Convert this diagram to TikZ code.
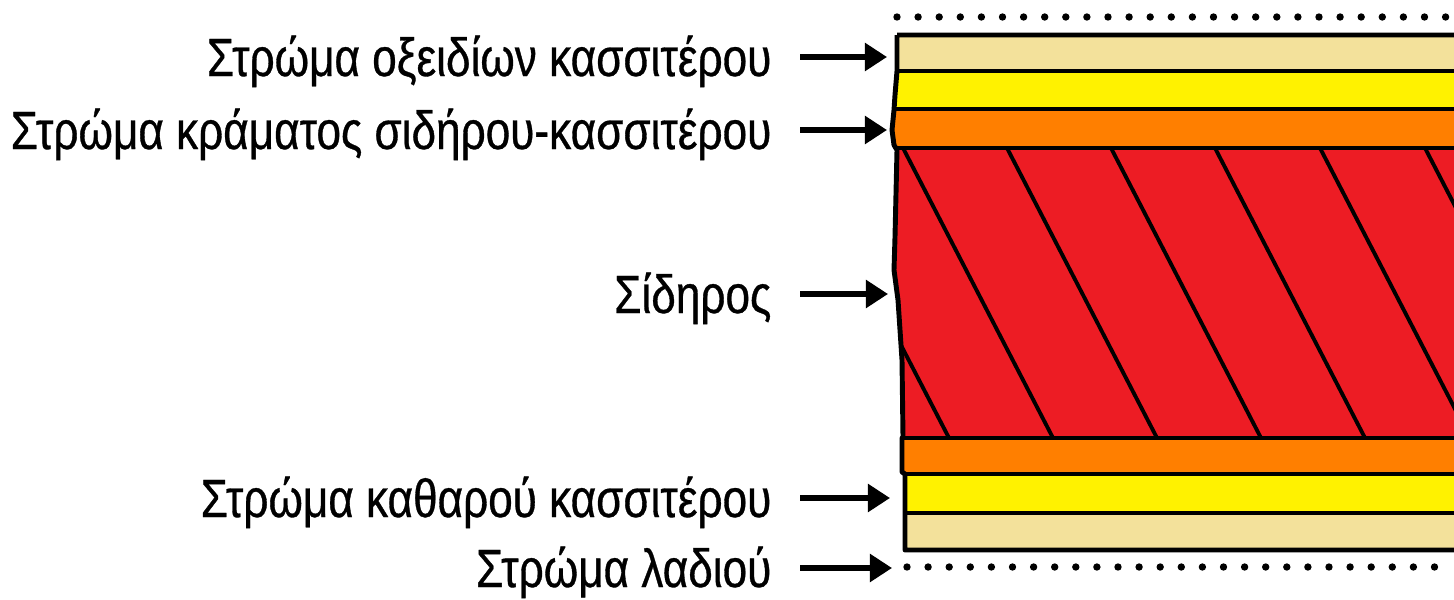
\documentclass[tikz,border=0pt]{standalone}
\usepackage{fontspec}
\setmainfont{Liberation Sans}[FakeStretch=0.82,FakeBold=0.6]
\usetikzlibrary{arrows.meta,positioning}
\definecolor{Oil}{HTML}{F3E19B}
\definecolor{Tin}{HTML}{FFF200}
\definecolor{Alloy}{HTML}{FF7F00}
\definecolor{Iron}{HTML}{ED1C24}
\tikzset{
  layerlabel/.style={
    anchor=east, inner sep=0pt, text height=0.38cm, text depth=0pt,
    font=\fontsize{15.3}{18}\selectfont
  },
  pointer/.style={-{Triangle[length=0.22cm,width=0.27cm]}, line width=1.5pt, shorten <=0.28cm},
  layerline/.style={line width=1.4pt},
  hatch/.style={line width=1.1pt},
  oilfilm/.style={line width=2.1pt, line cap=round, dash pattern=on 0pt off 6pt}
}

\begin{document}
\begin{tikzpicture}[x=0.01cm,y=-0.01cm]
    \useasboundingbox (0,0) rectangle (1454,600);
    % tip points of the arrows
    \coordinate (oxtip) at (887,57);
    \coordinate (alloytip) at (887,130);
    \coordinate (irontip) at (888,294);
    \coordinate (tintip) at (890,498);
    \coordinate (oiltip) at (892,568);
    % layers, clipped to the ragged sheet edge
    \begin{scope}
      \clip (897,35) -- (1460,35) -- (1460,550) -- (905,550) -- (905,474)
        -- (902,472) -- (902,438) -- (903,437) -- (902,360) -- (900,330)
        -- (898,300) -- (894,270) -- (895,237) -- (897,150) -- (894,145)
        -- (892,130) -- (894,110) -- (895,95) -- (897,71) -- cycle;
      \fill[Oil] (880,35) rectangle (1460,71);
      \fill[Tin] (880,71) rectangle (1460,109);
      \fill[Alloy] (880,109) rectangle (1460,148);
      \fill[Iron] (880,148) rectangle (1460,438);
      \fill[Alloy] (880,438) rectangle (1460,474);
      \fill[Tin] (880,474) rectangle (1460,513);
      \fill[Oil] (880,513) rectangle (1460,550);
      \begin{scope}
        \clip (880,148) rectangle (1460,438);
        \foreach \t in {799,903,1007,1111,1215,1320,1425}
          \draw[hatch] (\t,148) -- ({\t+150},438);
      \end{scope}
      \foreach \y in {71,109,148,438,474,513}
        \draw[layerline] (880,\y) -- (1460,\y);
    \end{scope}
    \draw[layerline,line join=round] (897,35) -- (1460,35) (1460,550) -- (905,550) -- (905,474)
        -- (902,472) -- (902,438) -- (903,437) -- (902,360) -- (900,330)
        -- (898,300) -- (894,270) -- (895,237) -- (897,150) -- (894,145)
        -- (892,130) -- (894,110) -- (895,95) -- (897,71) -- (897,35);
    % oil films
    \draw[oilfilm] (897,17) -- (1454,17);
    \draw[oilfilm] (907,567) -- (1454,567);
    % labels
    \node[layerlabel] (oxlbl) at (772,57) {Στρώμα οξειδίων κασσιτέρου};
    \node[layerlabel] (alloylbl) at (772,130) {Στρώμα κράματος σιδήρου-κασσιτέρου};
    \node[layerlabel] (ironlbl) at (772,294) {Σίδηρος};
    \node[layerlabel] (tinlbl) at (772,498) {Στρώμα καθαρού κασσιτέρου};
    \node[layerlabel] (oillbl) at (772,568) {Στρώμα λαδιού};
    \draw[pointer] (oxlbl.east) -- (oxtip);
    \draw[pointer] (alloylbl.east) -- (alloytip);
    \draw[pointer] (ironlbl.east) -- (irontip);
    \draw[pointer] (tinlbl.east) -- (tintip);
    \draw[pointer] (oillbl.east) -- (oiltip);
\end{tikzpicture}
\end{document}
